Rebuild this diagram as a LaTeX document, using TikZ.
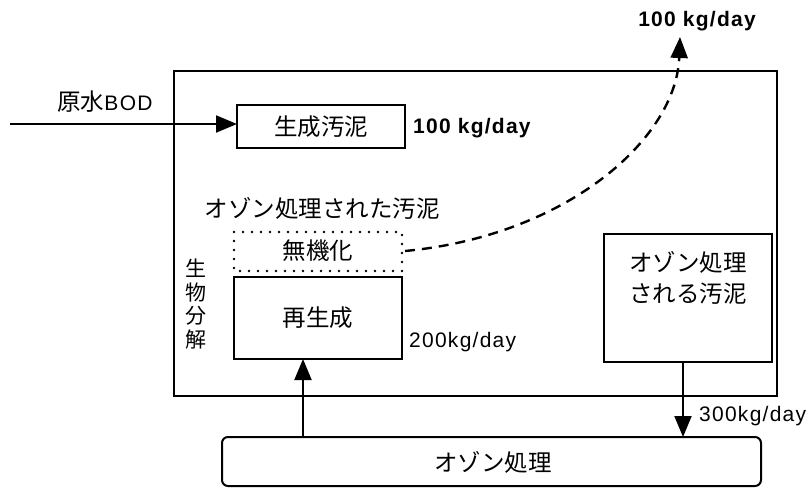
\documentclass[tikz,border=0pt]{standalone}
\usepackage{fontspec}
\setmainfont{Liberation Sans}
\newfontfamily\lat[LetterSpace=6]{Liberation Sans}
\newfontfamily\jp{Noto Sans CJK JP}
\usetikzlibrary{arrows.meta}
\begin{document}
\begin{tikzpicture}[x=1pt,y=-1pt,
  box/.style={draw,line width=2pt,inner sep=0pt},
  jtxt/.style={font=\jp\fontsize{23.5}{31}\selectfont,inner sep=0pt},
  ltxt/.style={font=\lat\fontsize{21}{24}\selectfont,inner sep=0pt},
  btxt/.style={font=\lat\bfseries\fontsize{21}{24}\selectfont,inner sep=0pt},
  arr/.style={line width=2pt,-{Triangle[length=21pt,width=17pt]}},
  dashedcurve/.style={line width=2.4pt,dash pattern=on 10pt off 7pt,-{Triangle[length=21pt,width=17pt]}},
  dotbox/.style={line width=2.6pt,line cap=round,dash pattern=on 0pt off 9pt}
]
\useasboundingbox (0,0) rectangle (808,487);
% main box
\draw[line width=2pt] (174,71) rectangle (777,396);
% boxes
\draw[box] (237,105) rectangle (405,148);
\node[jtxt] (gen) at (321,127) {生成汚泥};
\coordinate (genW) at (237,124);
\draw[dotbox] (234,232) rectangle (402,271);
\node[jtxt] (muki) at (318,251) {無機化};
\coordinate (mukiE) at (405,251);
\draw[box] (234,277) rectangle (402,359);
\node[jtxt] (sai) at (318,318) {再生成};
\coordinate (saiS) at (303,359);
\draw[box] (604,234) rectangle (772,362);
\node[jtxt,align=center] (oz) at (688,278) {オゾン処理\\される汚泥};
\coordinate (ozS) at (683,362);
\draw[line width=2pt,rounded corners=6pt] (222,437) rectangle (761,486);
\node[jtxt] (ozt) at (493,462) {オゾン処理};
\coordinate (oztN1) at (303,437);
\coordinate (oztN2) at (683,437);
% labels
\node[jtxt] (src) at (105,102) {原水{\lat\fontsize{21}{24}\selectfont BOD}};
\coordinate (srcW) at (10,124);
\node[btxt,anchor=west] (l1) at (413,128) {100 kg/day};
\node[btxt] (l2) at (697,21) {100 kg/day};
\coordinate (topT) at (680,37);
\node[ltxt,anchor=west] (l3) at (409,342) {200kg/day};
\node[ltxt,anchor=west] (l4) at (699,416) {300kg/day};
\node[jtxt] (ozd) at (322,208) {オゾン処理された汚泥};
\node[inner sep=0pt,align=center,font=\jp\fontsize{21}{23.5}\selectfont] (bio) at (196,304) {生\\物\\分\\解};
% connectors
\draw[arr] (srcW) -- (genW);
\draw[arr] (oztN1) -- (saiS);
\draw[arr] (ozS) -- (oztN2);
\draw[dashedcurve] (mukiE) .. controls (565,236) and (676,140) .. (topT);
\end{tikzpicture}
\end{document}
